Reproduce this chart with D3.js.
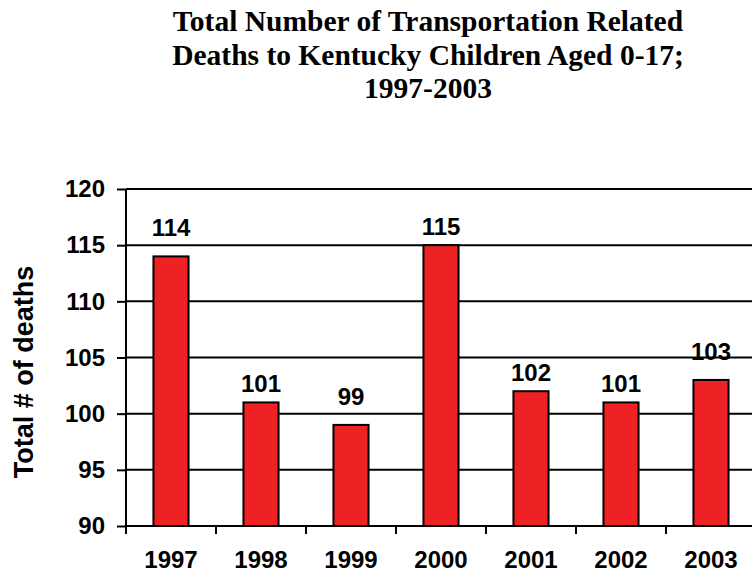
<!DOCTYPE html>
<html>
<head>
<meta charset="utf-8">
<script src="https://cdn.jsdelivr.net/npm/d3@7"></script>
<style>
  body { margin: 0; background: #fff; }
  svg { display: block; }
</style>
</head>
<body>
<div id="chart"></div>
<script>
var width = 752;
var height = 574;

var years = ["1997", "1998", "1999", "2000", "2001", "2002", "2003"];
var deaths = [114, 101, 99, 115, 102, 101, 103];
var yTicks = [90, 95, 100, 105, 110, 115, 120];
var titleLines = [
  "Total Number of Transportation Related",
  "Deaths to Kentucky Children Aged 0-17;",
  "1997-2003"
];

var plot = { left: 126, right: 756, top: 189, bottom: 526 };
var sans = "'Liberation Sans', Arial, sans-serif";

var svg = d3.select("#chart")
  .append("svg")
  .attr("width", width)
  .attr("height", height);

var data = years.map(function(y, i) { return { year: y, value: deaths[i] }; });

var xScale = d3.scaleBand()
  .domain(years)
  .range([plot.left, plot.right])
  .paddingInner(0.61)
  .paddingOuter(0.305);

var yScale = d3.scaleLinear()
  .domain([90, 120])
  .range([plot.bottom, plot.top]);

// title
svg.append("g")
  .selectAll("text")
  .data(titleLines)
  .enter()
  .append("text")
  .text(d => d)
  .attr("x", 428)
  .attr("y", (d, i) => 31 + i * 33.5)
  .attr("text-anchor", "middle")
  .attr("font-family", "'Liberation Serif', 'Times New Roman', serif")
  .attr("font-weight", "bold")
  .attr("font-size", 29.5);

// gridlines
svg.append("g")
  .selectAll("line")
  .data(yTicks.slice(1))
  .enter()
  .append("line")
  .attr("x1", plot.left)
  .attr("x2", width)
  .attr("y1", d => yScale(d))
  .attr("y2", d => yScale(d))
  .attr("stroke", "#000")
  .attr("stroke-width", 2);

// y axis
var yAxis = d3.axisLeft(yScale).tickValues(yTicks).tickSize(9).tickPadding(12);
var yG = svg.append("g")
  .attr("transform", "translate(" + plot.left + ",0)")
  .call(yAxis);
yG.select(".domain").attr("stroke-width", 2).attr("d", "M0," + plot.top + "V" + plot.bottom);
yG.selectAll(".tick line").attr("stroke-width", 2);
yG.selectAll("text")
  .attr("font-family", sans)
  .attr("font-weight", "bold")
  .attr("font-size", 24)
  .attr("fill", "#000");

// x axis: ticks at category boundaries
var boundaries = years.map(y => xScale(y) - xScale.step() * 0.305).concat([plot.right]);
svg.append("line")
  .attr("x1", plot.left)
  .attr("x2", width)
  .attr("y1", plot.bottom)
  .attr("y2", plot.bottom)
  .attr("stroke", "#000")
  .attr("stroke-width", 2);
svg.append("g")
  .selectAll("line")
  .data(boundaries)
  .enter()
  .append("line")
  .attr("x1", d => d)
  .attr("x2", d => d)
  .attr("y1", plot.bottom)
  .attr("y2", plot.bottom + 8)
  .attr("stroke", "#000")
  .attr("stroke-width", 2);

svg.append("g")
  .selectAll("text")
  .data(years)
  .enter()
  .append("text")
  .text(d => d)
  .attr("x", d => xScale(d) + xScale.bandwidth() / 2)
  .attr("y", 568)
  .attr("text-anchor", "middle")
  .attr("font-family", sans)
  .attr("font-weight", "bold")
  .attr("font-size", 24);

// bars
svg.append("g")
  .selectAll("rect")
  .data(data)
  .enter()
  .append("rect")
  .attr("x", d => xScale(d.year))
  .attr("y", d => yScale(d.value))
  .attr("width", xScale.bandwidth())
  .attr("height", d => yScale(90) - yScale(d.value))
  .attr("fill", "#ee2224")
  .attr("stroke", "#000")
  .attr("stroke-width", 2);

// value labels: lifted a bit when they would sit on a gridline
function labelY(v) {
  var base = yScale(v) - 10;
  var hit = yTicks.some(t => yScale(t) > base - 17 && yScale(t) < base);
  return hit ? base - 10 : base;
}

svg.append("g")
  .selectAll("text")
  .data(data)
  .enter()
  .append("text")
  .text(d => d.value)
  .attr("x", d => xScale(d.year) + xScale.bandwidth() / 2)
  .attr("y", d => labelY(d.value))
  .attr("text-anchor", "middle")
  .attr("font-family", sans)
  .attr("font-weight", "bold")
  .attr("font-size", 24);

// y axis title
svg.append("text")
  .text("Total # of deaths")
  .attr("transform", "translate(33,372) rotate(-90)")
  .attr("text-anchor", "middle")
  .attr("font-family", sans)
  .attr("font-weight", "bold")
  .attr("font-size", 27);
</script>
</body>
</html>
